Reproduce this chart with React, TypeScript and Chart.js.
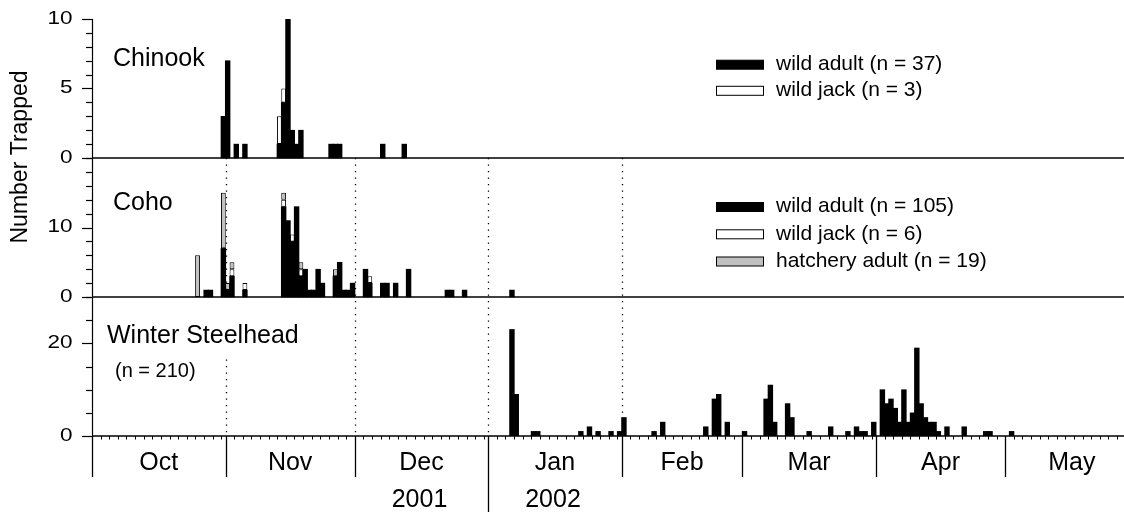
import React, { useEffect, useRef } from "react";
import { Chart, registerables } from "chart.js";

Chart.register(...registerables);

// Day index = days after 1 October 2001 (0 = Oct 1, 2001)
const monthLabels = ["Oct", "Nov", "Dec", "Jan", "Feb", "Mar", "Apr", "May"];
const monthStartDays = [0, 31, 61, 92, 123, 151, 182, 212, 243];
const yearLabels = ["2001", "2002"];
const yearMonthIndex = [2, 3]; // year labels sit under Dec and Jan
const dottedLineDays = [31, 61, 92, 123];

// Chinook
const chinookAdultDays = [30, 31, 33, 35, 43, 44, 45, 46, 47, 48, 55, 56, 57, 67, 72];
const chinookAdultCounts = [3, 7, 1, 1, 1, 4, 10, 2, 1, 2, 1, 1, 1, 1, 1];
const chinookJackDays = [43, 44];
const chinookJackCounts = [2, 1];

// Coho
const cohoAdultDays = [26, 27, 30, 31, 32, 35, 44, 45, 46, 47, 48, 49, 50, 51, 52, 53, 56, 57, 58, 59, 60, 63, 64, 67, 68, 70, 73, 82, 83, 86, 97];
const cohoAdultCounts = [1, 1, 7, 1, 3, 1, 13, 11, 8, 13, 3, 4, 1, 1, 4, 2, 3, 5, 1, 1, 2, 4, 2, 2, 2, 2, 4, 1, 1, 1, 1];
const cohoJackDays = [32, 35, 44, 46, 48, 64];
const cohoJackCounts = [1, 1, 1, 1, 1, 1];
const cohoHatcheryDays = [24, 30, 31, 32, 44, 48, 56];
const cohoHatcheryCounts = [6, 8, 1, 1, 1, 1, 1];

// Winter steelhead
const steelheadDays = [97, 98, 102, 103, 113, 115, 117, 120, 122, 123, 130, 132, 142, 144, 145, 147, 151, 156, 157, 158, 161, 162, 166, 171, 175, 177, 178, 179, 181, 183, 184, 185, 186, 187, 188, 189, 190, 191, 192, 193, 194, 195, 196, 198, 202, 207, 208, 213];
const steelheadCounts = [23, 9, 1, 1, 1, 2, 1, 1, 1, 4, 1, 3, 2, 8, 9, 3, 1, 8, 11, 3, 7, 4, 1, 2, 1, 2, 1, 1, 3, 10, 7, 8, 6, 3, 10, 3, 5, 19, 7, 4, 3, 3, 1, 2, 2, 1, 1, 1];

// Axis ticks per panel
const chinookYTicks = [0, 1, 2, 3, 4, 5, 6, 7, 8, 9, 10];
const chinookYLabels = [0, 5, 10];
const cohoYTicks = [0, 2, 4, 6, 8, 10, 12, 14, 16, 18, 20];
const cohoYLabels = [0, 10];
const steelheadYTicks = [0, 5, 10, 15, 20, 25, 30];
const steelheadYLabels = [0, 20];

const X_MAX_DAY = 239.6;

const FONT = '"Liberation Sans", Arial, Helvetica, sans-serif';
const BLACK = "#000000";
const WHITE = "#ffffff";
const GRAY = "#c0c0c0";

function makeDataset(label: string, days: number[], counts: number[], yAxisID: string, fill: string) {
  const solid = fill === BLACK;
  return {
    label,
    data: days.map((d, i) => ({ x: d + 0.5, y: counts[i] })),
    xAxisID: "x",
    yAxisID,
    backgroundColor: fill,
    borderColor: BLACK,
    borderWidth: solid ? 0 : 1,
    borderSkipped: false,
    inflateAmount: solid ? 0.3 : 0,
    grouped: false,
    barPercentage: 1.12,
    categoryPercentage: 1,
  };
}

function panelRange(max: number, index: number) {
  // three equal panels stacked top (0) to bottom (2)
  return { min: -(2 - index) * max, max: (index + 1) * max };
}

function line(ctx: CanvasRenderingContext2D, x1: number, y1: number, x2: number, y2: number) {
  ctx.beginPath();
  ctx.moveTo(x1, y1);
  ctx.lineTo(x2, y2);
  ctx.stroke();
}

function stretchedText(ctx: CanvasRenderingContext2D, text: string, xRight: number, y: number) {
  ctx.save();
  ctx.translate(xRight, y);
  ctx.scale(1.25, 1);
  ctx.font = `18px ${FONT}`;
  ctx.textAlign = "right";
  ctx.textBaseline = "middle";
  ctx.fillText(text, 0, 0);
  ctx.restore();
}

const decorations = {
  id: "decorations",
  beforeDatasetsDraw(chart: any) {
    const { ctx, scales } = chart;
    const x = scales.x;
    const top = scales.yCoho.getPixelForValue(cohoYTicks[cohoYTicks.length - 1]);
    const bottom = scales.ySteel.getPixelForValue(0);
    ctx.save();
    ctx.strokeStyle = BLACK;
    ctx.lineWidth = 1.3;
    ctx.setLineDash([1.3, 5.2]);
    for (const d of dottedLineDays) {
      const px = Math.round(x.getPixelForValue(d)) + 0.5;
      line(ctx, px, top, px, bottom);
    }
    ctx.restore();
  },
  afterDatasetsDraw(chart: any) {
    const { ctx, scales, chartArea } = chart;
    const x = scales.x;
    const left = chartArea.left;
    const right = chart.width;
    const axisX = left + 0.5;
    const panels = [
      { scale: scales.yChinook, ticks: chinookYTicks, labels: chinookYLabels },
      { scale: scales.yCoho, ticks: cohoYTicks, labels: cohoYLabels },
      { scale: scales.ySteel, ticks: steelheadYTicks, labels: steelheadYLabels },
    ];
    ctx.save();
    ctx.strokeStyle = BLACK;
    ctx.fillStyle = BLACK;

    // panel titles (Steelhead title has an opaque background)
    ctx.textAlign = "left";
    ctx.textBaseline = "middle";
    ctx.font = `25px ${FONT}`;
    ctx.fillText("Chinook", 113, 59);
    ctx.fillText("Coho", 113, 203);
    const stTitle = "Winter Steelhead";
    const stW = ctx.measureText(stTitle).width;
    const stTop = scales.ySteel.getPixelForValue(steelheadYTicks[steelheadYTicks.length - 1]) + 1;
    ctx.fillStyle = WHITE;
    ctx.fillRect(103, stTop, stW + 8, 355 - stTop);
    ctx.fillStyle = BLACK;
    ctx.fillText(stTitle, 107, 336.5);
    ctx.font = `20px ${FONT}`;
    ctx.fillText("(n = 210)", 115, 371.5);

    // baselines
    ctx.lineWidth = 1.5;
    for (const p of panels) {
      const y0 = p.scale.getPixelForValue(0);
      line(ctx, left, y0, right, y0);
    }

    // y axis line
    ctx.lineWidth = 1.2;
    const yTop = scales.yChinook.getPixelForValue(chinookYTicks[chinookYTicks.length - 1]);
    const base = scales.ySteel.getPixelForValue(0);
    line(ctx, axisX, yTop, axisX, base);

    // y ticks and labels
    for (const p of panels) {
      for (const v of p.ticks) {
        const y = Math.round(p.scale.getPixelForValue(v)) + 0.5;
        const major = p.labels.includes(v);
        line(ctx, axisX - (major ? 10.5 : 6.5), y, axisX, y);
      }
      for (const v of p.labels) {
        stretchedText(ctx, String(v), axisX - 20, p.scale.getPixelForValue(v));
      }
    }

    // x axis: month boundaries, day ticks, labels
    for (let i = 0; i < monthLabels.length; i++) {
      const start = monthStartDays[i];
      const next = monthStartDays[i + 1];
      const px = Math.round(x.getPixelForValue(start)) + 0.5;
      ctx.lineWidth = 1.3;
      const end = i === yearMonthIndex[1] ? chart.height : base + 41;
      line(ctx, px, base, px, end);
      ctx.lineWidth = 1;
      for (let d = start + 2; d < next; d += 2) {
        const tx = Math.round(x.getPixelForValue(d)) + 0.5;
        line(ctx, tx, base, tx, base + 3.5);
      }
      ctx.font = `25px ${FONT}`;
      ctx.textAlign = "center";
      ctx.textBaseline = "middle";
      ctx.fillText(monthLabels[i], x.getPixelForValue((start + next) / 2), base + 27);
    }
    yearLabels.forEach((lab, k) => {
      const m = yearMonthIndex[k];
      const cx = x.getPixelForValue((monthStartDays[m] + monthStartDays[m + 1]) / 2);
      ctx.fillText(lab, cx - 2, 500);
    });

    // y axis title
    ctx.save();
    ctx.translate(21, 157);
    ctx.rotate(-Math.PI / 2);
    ctx.font = `23px ${FONT}`;
    ctx.textAlign = "center";
    ctx.textBaseline = "middle";
    ctx.fillText("Number Trapped", 0, 0);
    ctx.restore();

    // legends
    const ds = chart.data.datasets;
    const legends = [
      { items: [0, 1], rows: [64.7, 90.8] },
      { items: [2, 3, 4], rows: [207, 234.3, 261.5] },
    ];
    ctx.font = `21px ${FONT}`;
    ctx.textAlign = "left";
    ctx.textBaseline = "middle";
    ctx.lineWidth = 1;
    for (const lg of legends) {
      lg.items.forEach((idx, r) => {
        const y = lg.rows[r];
        ctx.fillStyle = ds[idx].backgroundColor;
        ctx.fillRect(716.5, y - 4.5, 47, 9);
        ctx.strokeStyle = BLACK;
        ctx.strokeRect(716.5, y - 4.5, 47, 9);
        ctx.fillStyle = BLACK;
        ctx.fillText(ds[idx].label, 776, y - 0.5);
      });
    }
    ctx.restore();
  },
};

export default function App() {
  const canvasRef = useRef<HTMLCanvasElement | null>(null);

  useEffect(() => {
    const canvas = canvasRef.current;
    if (!canvas) return;
    const chart = new Chart(canvas, {
      type: "bar",
      data: {
        datasets: [
          makeDataset("wild adult (n = 37)", chinookAdultDays, chinookAdultCounts, "yChinook", BLACK),
          makeDataset("wild jack (n = 3)", chinookJackDays, chinookJackCounts, "yChinook", WHITE),
          makeDataset("wild adult (n = 105)", cohoAdultDays, cohoAdultCounts, "yCoho", BLACK),
          makeDataset("wild jack (n = 6)", cohoJackDays, cohoJackCounts, "yCoho", WHITE),
          makeDataset("hatchery adult (n = 19)", cohoHatcheryDays, cohoHatcheryCounts, "yCoho", GRAY),
          makeDataset("Winter Steelhead (n = 210)", steelheadDays, steelheadCounts, "ySteel", BLACK),
        ] as any,
      },
      options: {
        responsive: false,
        animation: false,
        events: [],
        devicePixelRatio: 1,
        layout: { padding: { left: 92, right: 0, top: 19, bottom: 76 } },
        plugins: { legend: { display: false }, tooltip: { enabled: false }, title: { display: false } },
        scales: {
          x: { type: "linear", min: 0, max: X_MAX_DAY, offset: false, display: false, grid: { display: false, offset: false } },
          yChinook: { type: "linear", stacked: true, display: false, ...panelRange(chinookYTicks[chinookYTicks.length - 1], 0) },
          yCoho: { type: "linear", stacked: true, display: false, ...panelRange(cohoYTicks[cohoYTicks.length - 1], 1) },
          ySteel: { type: "linear", stacked: true, display: false, ...panelRange(steelheadYTicks[steelheadYTicks.length - 1], 2) },
        },
      } as any,
      plugins: [decorations],
    });
    return () => chart.destroy();
  }, []);

  return (
    <div style={{ position: "absolute", left: 0, top: 0, width: 1124, height: 512, background: "#fff" }}>
      <canvas ref={canvasRef} width={1124} height={512} style={{ width: 1124, height: 512, display: "block" }} />
    </div>
  );
}
